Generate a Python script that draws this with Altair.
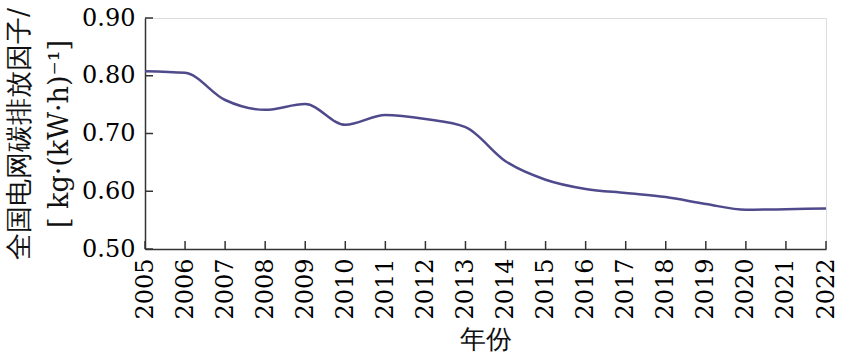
import altair as alt
import pandas as pd

years = list(range(2005, 2023))
factors = [0.808, 0.805, 0.758, 0.741, 0.751, 0.715, 0.732, 0.725, 0.711,
           0.652, 0.620, 0.604, 0.597, 0.590, 0.578, 0.568, 0.569, 0.570]
y_ticks = [0.5, 0.6, 0.7, 0.8, 0.9]

df = pd.DataFrame({"year": years, "factor": factors})
yt = pd.DataFrame({"v": y_ticks})
xt = pd.DataFrame({"year": years})

W, H = 681, 231
FONT = "DejaVu Serif"
xs = alt.Scale(domain=[2005, 2022], nice=False, zero=False)
ys = alt.Scale(domain=[0.5, 0.9], nice=False, zero=False)

line = alt.Chart(df).mark_line(color="#4f4a8c", strokeWidth=2.5, interpolate="monotone").encode(
    x=alt.X("year:Q", scale=xs,
            axis=alt.Axis(title="年份", values=years, format="d", labelAngle=-90,
                          labelAlign="right", labelBaseline="middle", labelPadding=9,
                          ticks=False, grid=False, domainColor="#333333", domainWidth=1.5,
                          labelFont=FONT, labelFontSize=24, labelColor="#000000",
                          titleFont=FONT, titleFontSize=26, titleFontWeight="normal",
                          titleColor="#111111", titlePadding=7)),
    y=alt.Y("factor:Q", scale=ys,
            axis=alt.Axis(title=["全国电网碳排放因子/", "[ kg·(kW·h)⁻¹]"], values=y_ticks,
                          format=".2f", ticks=False, grid=False, labelPadding=10,
                          domainColor="#333333", domainWidth=1.5,
                          labelFont=FONT, labelFontSize=24, labelColor="#000000",
                          titleFont=FONT, titleFontSize=27, titleFontWeight="normal",
                          titleColor="#111111", titlePadding=8, titleLineHeight=40)),
)

ytick = alt.Chart(yt).mark_rule(color="#333333", strokeWidth=1.5).encode(
    y=alt.Y("v:Q", scale=ys), x=alt.value(0), x2=alt.value(8))
xtick = alt.Chart(xt).mark_rule(color="#333333", strokeWidth=1.5).encode(
    x=alt.X("year:Q", scale=xs), y=alt.value(H), y2=alt.value(H - 8))

chart = alt.layer(line, ytick, xtick).properties(
    width=W, height=H,
    autosize=alt.AutoSizeParams(type="none"),
    padding={"left": 145, "top": 18, "right": 40, "bottom": 108},
).configure_view(stroke=None).configure(background="white")

chart.save("out.html", embed_options={"renderer": "svg", "actions": False})
